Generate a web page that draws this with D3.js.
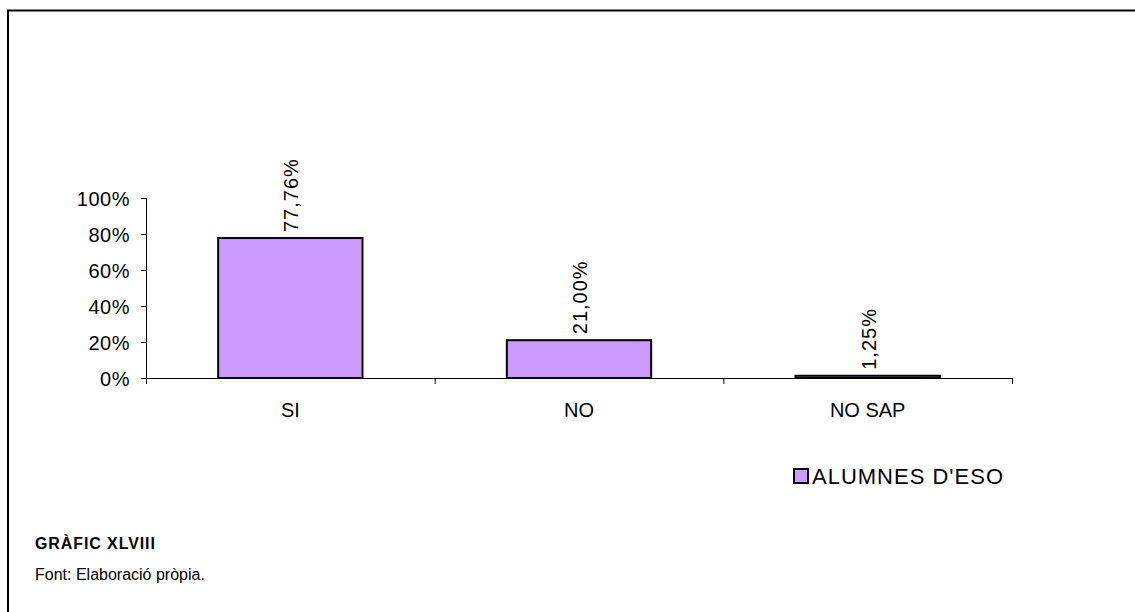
<!DOCTYPE html>
<meta charset="utf-8">
<style>
body { margin: 0; background: #fff; }
text { font-family: Arial, "Liberation Sans", sans-serif; fill: #000; }
</style>
<svg id="chart" width="1135" height="612"></svg>
<script src="https://cdn.jsdelivr.net/npm/d3@7"></script>
<script>
var categories = ["SI", "NO", "NO SAP"];
var values = [77.76, 21.00, 1.25];
var valueLabels = ["77,76%", "21,00%", "1,25%"];
var yTicks = [0, 20, 40, 60, 80, 100];
var seriesName = "ALUMNES D'ESO";

var svg = d3.select("#chart");

// frame (only top and left edges are visible in the picture)
svg.append("path")
    .attr("d", "M8,612V10.5H1135")
    .attr("fill", "none")
    .attr("stroke", "#000")
    .attr("stroke-width", 2);

var plot = {left: 146, right: 1012, top: 198, bottom: 378};

var x = d3.scaleBand().domain(categories).range([plot.left, plot.right]).paddingInner(0.5).paddingOuter(0.25);
var xb = d3.scaleBand().domain(categories).range([plot.left, plot.right]);
var y = d3.scaleLinear().domain([0, 100]).range([plot.bottom, plot.top]);

// y axis
var yAxis = svg.append("g")
    .attr("transform", "translate(" + plot.left + ",0)")
    .call(d3.axisLeft(y).tickValues(yTicks).tickSize(5).tickPadding(11)
      .tickFormat(function(d) { return d + "%"; }));
yAxis.selectAll("text").style("font-size", "20px").style("letter-spacing", "0.5px").attr("dy", "0.35em");
yAxis.selectAll("line, path").attr("stroke", "#000");
yAxis.select(".domain").attr("d", "M0.5," + plot.top + "V" + plot.bottom);

// bars
svg.selectAll(".bar")
    .data(values)
  .enter().append("rect")
    .attr("class", "bar")
    .attr("x", function(d, i) { return x(categories[i]); })
    .attr("width", x.bandwidth())
    .attr("y", function(d) { return y(d); })
    .attr("height", function(d) { return y(0) - y(d); })
    .attr("fill", "#cc99ff")
    .attr("stroke", "#000")
    .attr("stroke-width", 2);

// x axis
var xAxisG = svg.append("g").attr("transform", "translate(0," + plot.bottom + ")");
xAxisG.append("line")
    .attr("x1", plot.left - 5).attr("x2", plot.right)
    .attr("y1", 0.5).attr("y2", 0.5)
    .attr("stroke", "#000");
var bounds = categories.map(function(c) { return xb(c); }).concat([plot.right]);
xAxisG.selectAll(".xt")
    .data(bounds)
  .enter().append("line")
    .attr("x1", function(d) { return d + 0.5; })
    .attr("x2", function(d) { return d + 0.5; })
    .attr("y1", 0).attr("y2", 6)
    .attr("stroke", "#000");
xAxisG.selectAll(".xl")
    .data(categories)
  .enter().append("text")
    .attr("x", function(d) { return xb(d) + xb.bandwidth() / 2; })
    .attr("y", 39)
    .attr("text-anchor", "middle")
    .style("font-size", "20px")
    .text(function(d) { return d; });

// value labels
svg.selectAll(".vl")
    .data(values)
  .enter().append("text")
    .attr("transform", function(d, i) {
      return "translate(" + (x(categories[i]) + x.bandwidth() / 2 + 8) + "," + (y(d) - 6) + ") rotate(-90)";
    })
    .style("font-size", "20px")
    .style("letter-spacing", "1px")
    .text(function(d, i) { return valueLabels[i]; });

// legend
svg.append("rect")
    .attr("x", 794).attr("y", 469)
    .attr("width", 14).attr("height", 14)
    .attr("fill", "#cc99ff")
    .attr("stroke", "#000")
    .attr("stroke-width", 2);
svg.append("text")
    .attr("x", 812).attr("y", 484)
    .style("font-size", "22px")
    .style("letter-spacing", "1px")
    .text(seriesName);

// caption
svg.append("text")
    .attr("x", 35).attr("y", 549)
    .style("font-size", "16px")
    .style("font-weight", "bold")
    .style("letter-spacing", "0.9px")
    .text("GRÀFIC XLVIII");
svg.append("text")
    .attr("x", 35).attr("y", 580)
    .style("font-size", "16px")
    .text("Font: Elaboració pròpia.");
</script>
